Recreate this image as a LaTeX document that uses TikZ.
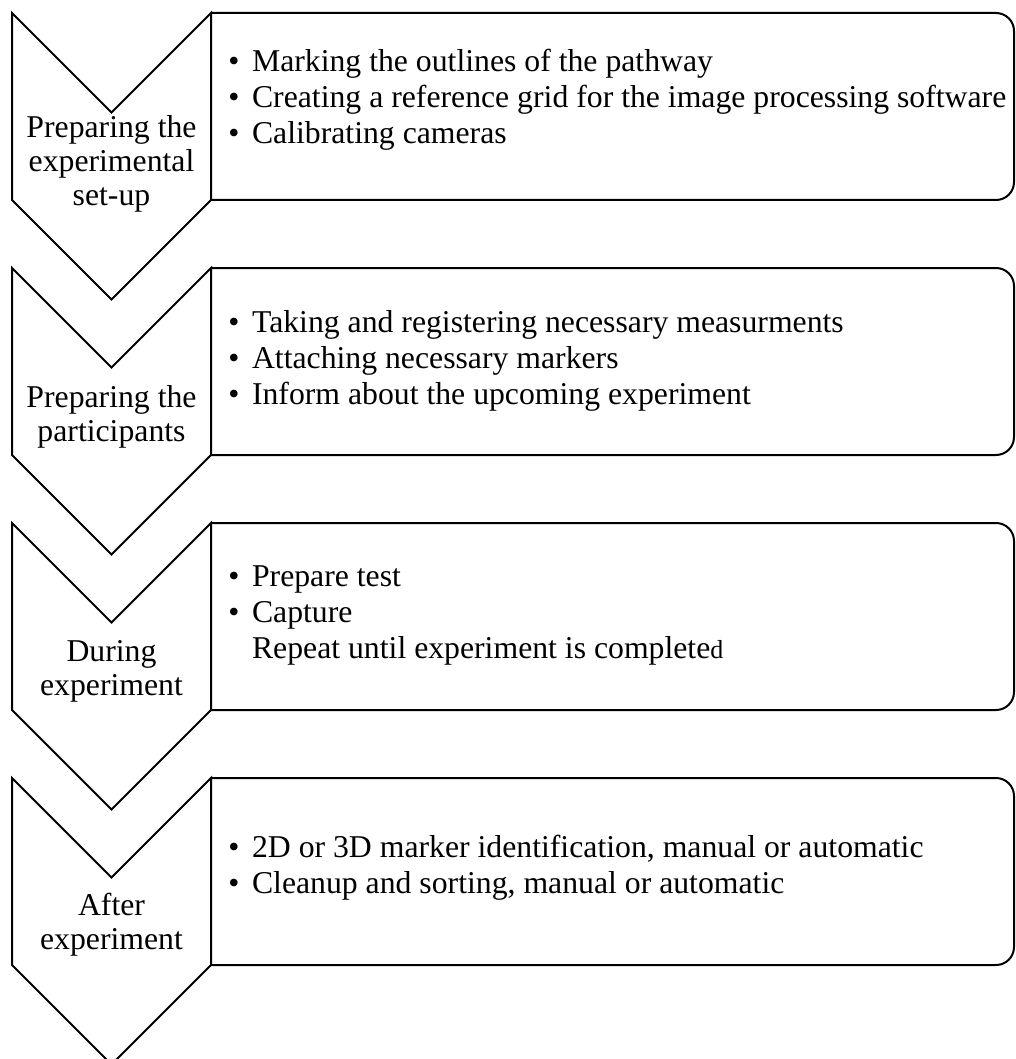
\documentclass[tikz,border=0pt]{standalone}
\usepackage{fontspec}
\setmainfont{Liberation Serif}

\tikzset{
  chevron/.style={draw=black, line width=1.5pt, line join=miter},
  stagebox/.style={draw=black, line width=1.5pt, rounded corners=13.5pt},
  stagelabel/.style={align=center, inner sep=0pt, font=\fontsize{23.8}{25.5}\selectfont},
  tasklist/.style={align=left, anchor=west, inner sep=0pt, font=\fontsize{23.8}{27}\selectfont},
}
\newcommand{\itm}{\textbullet\hspace{0.4em}}
\newcommand{\noitm}{\phantom{\textbullet}\hspace{0.4em}}

\begin{document}
\begin{tikzpicture}[x=0.75pt,y=0.75pt,yscale=-1,xscale=1]
  \useasboundingbox (0,0) rectangle (1015,1059);

  % stage 1
  \draw [chevron] (12,13) -- (111.5,112.5) -- (211,13) -- (211,200) -- (111.5,299.5) -- (12,200) -- cycle ;
  \draw [stagebox] (211,13) -- (1014,13) -- (1014,200) -- (211,200) ;
  \node [stagelabel] (setup) at (111.5,164) {Preparing the\\experimental\\set-up};
  \node [tasklist] (setuptasks) at (228,100) {\itm Marking the outlines of the pathway\\
    \itm Creating a reference grid for the image processing software\\
    \itm Calibrating cameras};

  % stage 2
  \draw [chevron] (12,268) -- (111.5,367.5) -- (211,268) -- (211,455) -- (111.5,554.5) -- (12,455) -- cycle ;
  \draw [stagebox] (211,268) -- (1014,268) -- (1014,455) -- (211,455) ;
  \node [stagelabel] (partic) at (111.5,417) {Preparing the\\participants};
  \node [tasklist] (partictasks) at (228,360.5) {\itm Taking and registering necessary measurments\\
    \itm Attaching necessary markers\\
    \itm Inform about the upcoming experiment};

  % stage 3
  \draw [chevron] (12,523) -- (111.5,622.5) -- (211,523) -- (211,710) -- (111.5,809.5) -- (12,710) -- cycle ;
  \draw [stagebox] (211,523) -- (1014,523) -- (1014,710) -- (211,710) ;
  \node [stagelabel] (during) at (111.5,671.5) {During\\experiment};
  \node [tasklist] (duringtasks) at (228,615) {\itm Prepare test\\
    \itm Capture\\
    \noitm Repeat until experiment is complete{\fontsize{19.5}{27}\selectfont d}};

  % stage 4
  \draw [chevron] (12,778) -- (111.5,877.5) -- (211,778) -- (211,965) -- (111.5,1064.5) -- (12,965) -- cycle ;
  \draw [stagebox] (211,778) -- (1014,778) -- (1014,965) -- (211,965) ;
  \node [stagelabel] (after) at (111.5,925) {After\\experiment};
  \node [tasklist] (aftertasks) at (228,867.5) {\itm 2D or 3D marker identification, manual or automatic\\
    \itm Cleanup and sorting, manual or automatic};
\end{tikzpicture}
\end{document}
